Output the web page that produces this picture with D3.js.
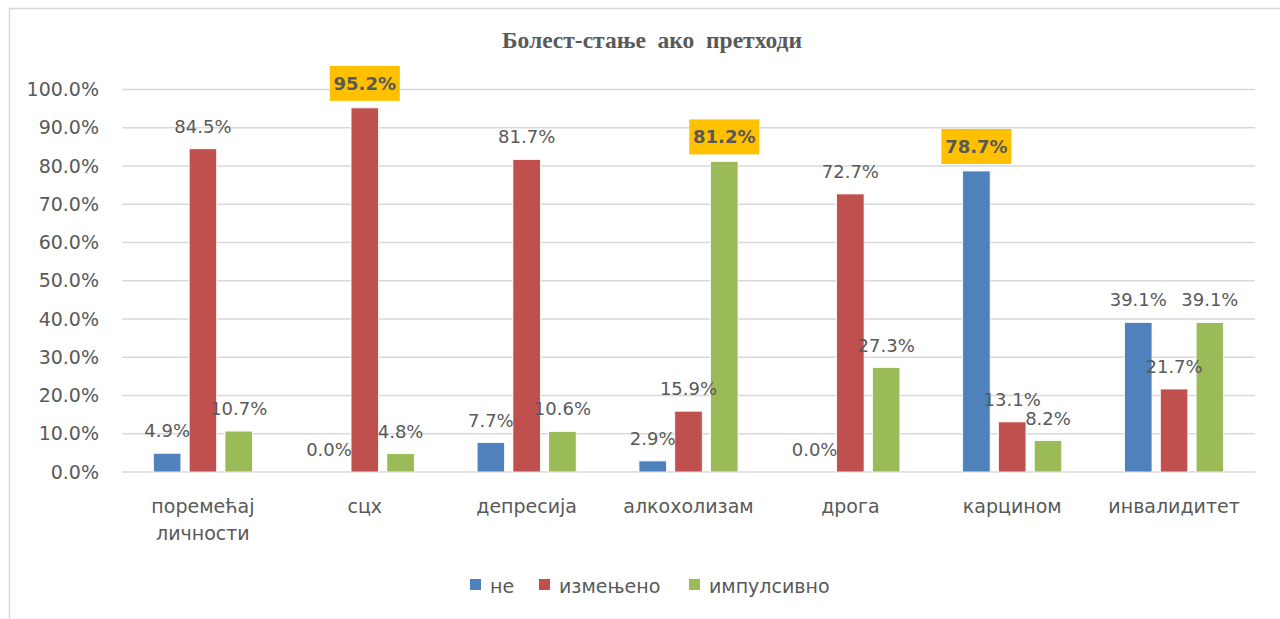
<!DOCTYPE html>
<html lang="sr">
<head>
  <meta charset="UTF-8">
  <title>Болест-стање ако претходи</title>
  <style>
    body { margin: 0; background: #fff; }
    svg { display: block; }
    text { font-family: "DejaVu Sans", sans-serif; fill: #595959; }
  </style>
  <script src="https://d3js.org/d3.v7.min.js"></script>
</head>
<body>
  <div id="chart"></div>
  <script>
    // data
    const categories = [["поремећај", "личности"], ["сцх"], ["депресија"], ["алкохолизам"], ["дрога"], ["карцином"], ["инвалидитет"]];
    const seriesNames = ["не", "измењено", "импулсивно"];
    const ne = [4.9, 0.0, 7.7, 2.9, 0.0, 78.7, 39.1];
    const izmenjeno = [84.5, 95.2, 81.7, 15.9, 72.7, 13.1, 21.7];
    const impulsivno = [10.7, 4.8, 10.6, 81.2, 27.3, 8.2, 39.1];
    const yTicks = [0, 10, 20, 30, 40, 50, 60, 70, 80, 90, 100];
    // which labels get the yellow box: [category index, series index]
    const highlighted = [[1, 1], [3, 2], [5, 0]];

    const colors = ["#4F81BD", "#C0504D", "#9BBB59"];
    const allSeries = [ne, izmenjeno, impulsivno];

    const W = 1280, H = 619;
    const svg = d3.select("#chart").append("svg")
      .attr("width", W).attr("height", H);

    // chart frame
    svg.append("rect")
      .attr("x", 9.5).attr("y", 8.5)
      .attr("width", W).attr("height", H)
      .attr("fill", "none").attr("stroke", "#D9D9D9").attr("stroke-width", 1.5);

    svg.append("text")
      .attr("x", 652).attr("y", 48)
      .attr("text-anchor", "middle")
      .attr("xml:space", "preserve")
      .style("font-family", "'Liberation Serif', serif")
      .style("font-weight", "bold")
      .style("font-size", "23.5px")
      .style("white-space", "pre")
      .text("Болест-стање  ако  претходи");

    const x0 = d3.scaleBand()
      .domain(d3.range(categories.length))
      .range([122, 1255]);

    const x1 = d3.scaleBand()
      .domain(d3.range(seriesNames.length))
      .range([0, x0.bandwidth()])
      .paddingInner(0.232)
      .paddingOuter(0.877);

    const y = d3.scaleLinear().domain([0, 100]).range([472, 89.5]);

    // gridlines
    svg.append("g")
      .selectAll("line")
      .data(yTicks)
      .join("line")
      .attr("x1", 122).attr("x2", 1255)
      .attr("y1", d => y(d)).attr("y2", d => y(d))
      .attr("stroke", "#D9D9D9").attr("stroke-width", 1.3);

    // y axis labels
    const yAxis = d3.axisLeft(y)
      .tickValues(yTicks)
      .tickFormat(d => d.toFixed(1) + "%")
      .tickSize(0)
      .tickPadding(0);
    const yg = svg.append("g").attr("transform", "translate(99,0)").call(yAxis);
    yg.select(".domain").remove();
    yg.selectAll("text")
      .style("font-size", "19px")
      .style("font-family", "'DejaVu Sans', sans-serif")
      .attr("fill", "#595959");

    // category labels
    const xl = svg.append("g")
      .selectAll("text")
      .data(categories)
      .join("text")
      .attr("text-anchor", "middle")
      .style("font-size", "19px")
      .attr("x", (d, i) => x0(i) + x0.bandwidth() / 2)
      .attr("y", 513);
    xl.selectAll("tspan")
      .data(d => d)
      .join("tspan")
      .attr("x", function () { return d3.select(this.parentNode).attr("x"); })
      .attr("dy", (d, i) => i === 0 ? 0 : 27)
      .text(d => d);

    // bars
    const rows = [];
    categories.forEach((c, ci) => {
      allSeries.forEach((s, si) => {
        rows.push({ ci, si, v: s[ci], hl: highlighted.some(h => h[0] === ci && h[1] === si) });
      });
    });

    svg.append("g")
      .selectAll("rect")
      .data(rows)
      .join("rect")
      .attr("x", d => x0(d.ci) + x1(d.si))
      .attr("width", x1.bandwidth())
      .attr("y", d => y(d.v))
      .attr("height", d => y(0) - y(d.v))
      .attr("fill", d => colors[d.si])
      .attr("stroke", "#fff").attr("stroke-width", 0.8);

    // value labels
    const lab = svg.append("g")
      .selectAll("g")
      .data(rows)
      .join("g")
      .attr("transform", d => `translate(${x0(d.ci) + x1(d.si) + x1.bandwidth() / 2},${y(d.v)})`);

    lab.filter(d => d.hl).append("rect")
      .attr("x", -35).attr("y", -42)
      .attr("width", 70).attr("height", 35)
      .attr("fill", "#FFC000");

    lab.append("text")
      .attr("text-anchor", "middle")
      .attr("y", d => d.hl ? -18 : -16)
      .style("font-size", "18px")
      .style("font-weight", d => d.hl ? "bold" : "normal")
      .attr("fill", "#404040")
      .text(d => d.v.toFixed(1) + "%");

    // legend
    const legX = [470, 539, 689];
    const leg = svg.append("g")
      .selectAll("g")
      .data(seriesNames)
      .join("g")
      .attr("transform", (d, i) => `translate(${legX[i]},579)`);
    leg.append("rect")
      .attr("width", 11).attr("height", 11)
      .attr("fill", (d, i) => colors[i]);
    leg.append("text")
      .attr("x", 20).attr("y", 14)
      .style("font-size", "19px")
      .text(d => d);
  </script>
</body>
</html>
